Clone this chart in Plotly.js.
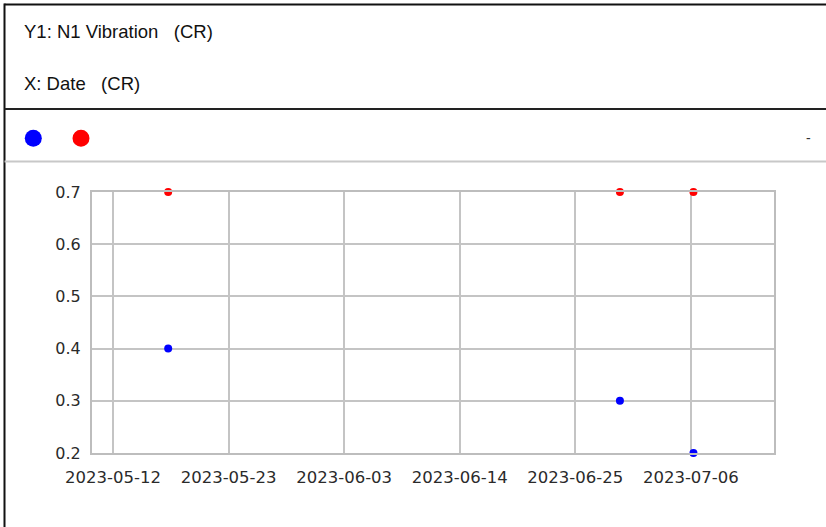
<!DOCTYPE html>
<html>
<head>
<meta charset="utf-8">
<script src="https://cdn.plot.ly/plotly-3.0.1.min.js"></script>
<style>
html,body{margin:0;padding:0;background:#fff;}
#chart{width:826px;height:527px;}
</style>
</head>
<body>
<div id="chart"></div>
<script>
// ---- data ----
var dates = ['2023-05-17 06:00', '2023-06-29 06:00', '2023-07-06 06:00'];
var blueValues = [0.4, 0.3, 0.2];
var redValues = [0.7, 0.7, 0.7];
var headerY = 'Y1: N1 Vibration\u00a0\u00a0\u00a0(CR)';
var headerX = 'X: Date\u00a0\u00a0\u00a0(CR)';
var xRange = ['2023-05-10 00:00', '2023-07-13 22:00'];
var xTick0 = '2023-05-12';
var xTickDays = 11;
var yRange = [0.2, 0.7];

// ---- layout helpers (pixel -> paper) ----
var W = 826, H = 527;
var L = 92, R = 52, T = 192, B = 74;
var PW = W - L - R, PH = H - T - B;
function px(x){ return (x - L) / PW; }
function py(y){ return (H - B - y) / PH; }

var traces = [
  {x: dates, y: blueValues, mode: 'markers', type: 'scatter', name: 'blue',
   marker: {color: '#0000ff', size: 8}, cliponaxis: false, hoverinfo: 'x+y'},
  {x: dates, y: redValues, mode: 'markers', type: 'scatter', name: 'red',
   marker: {color: '#ff0000', size: 8}, cliponaxis: false, hoverinfo: 'x+y'}
];

var shapes = [
  // outer top and left black border
  {type: 'line', xref: 'paper', yref: 'paper', x0: px(4.5), x1: px(830), y0: py(4.5), y1: py(4.5),
   line: {color: '#111', width: 2}},
  {type: 'line', xref: 'paper', yref: 'paper', x0: px(4.5), x1: px(4.5), y0: py(3.5), y1: py(530),
   line: {color: '#111', width: 2}},
  // header separator
  {type: 'line', xref: 'paper', yref: 'paper', x0: px(4.5), x1: px(830), y0: py(109), y1: py(109),
   line: {color: '#222', width: 2}},
  // legend separator (gray)
  {type: 'line', xref: 'paper', yref: 'paper', x0: px(4.5), x1: px(830), y0: py(161.5), y1: py(161.5),
   line: {color: '#c8c8c8', width: 2}},
  // legend circles
  {type: 'circle', xref: 'paper', yref: 'paper', x0: px(24.8), x1: px(41.8), y0: py(146.8), y1: py(129.8),
   fillcolor: '#0000ff', line: {width: 0}},
  {type: 'circle', xref: 'paper', yref: 'paper', x0: px(72.5), x1: px(89.5), y0: py(146.8), y1: py(129.8),
   fillcolor: '#ff0000', line: {width: 0}}
];

var annotations = [
  {text: headerY, xref: 'paper', yref: 'paper', x: px(22), y: py(31.5), xanchor: 'left', yanchor: 'middle',
   showarrow: false, font: {family: 'Liberation Sans, Arial, sans-serif', size: 18.5, color: '#111'}},
  {text: headerX, xref: 'paper', yref: 'paper', x: px(22), y: py(83), xanchor: 'left', yanchor: 'middle',
   showarrow: false, font: {family: 'Liberation Sans, Arial, sans-serif', size: 18.5, color: '#111'}},
  {text: '-', xref: 'paper', yref: 'paper', x: px(808), y: py(137.5), xanchor: 'center', yanchor: 'middle',
   showarrow: false, font: {family: 'Liberation Sans, Arial, sans-serif', size: 14, color: '#333'}}
];

var layout = {
  width: W, height: H,
  margin: {l: L, r: R, t: T, b: B, pad: 0},
  paper_bgcolor: '#fff', plot_bgcolor: '#fff',
  showlegend: false,
  xaxis: {
    type: 'date', range: xRange, tick0: xTick0, dtick: xTickDays * 86400000,
    tickformat: '%Y-%m-%d', showgrid: true, gridcolor: '#c4c4c4', gridwidth: 2,
    showline: true, linecolor: '#bdbdbd', linewidth: 2, mirror: true,
    zeroline: false, ticks: '', ticklabelstandoff: 8,
    tickfont: {family: 'DejaVu Sans, sans-serif', size: 16.5, color: '#2a2a2a'}
  },
  yaxis: {
    range: yRange, dtick: 0.1, tick0: 0.2, tickformat: '.1f',
    showgrid: true, gridcolor: '#c4c4c4', gridwidth: 2,
    showline: true, linecolor: '#bdbdbd', linewidth: 2, mirror: true,
    zeroline: false, ticks: '', ticklabelstandoff: 6,
    tickfont: {family: 'DejaVu Sans, sans-serif', size: 16, color: '#2a2a2a'}
  },
  shapes: shapes,
  annotations: annotations
};

Plotly.newPlot('chart', traces, layout, {displayModeBar: false, staticPlot: true});
</script>
</body>
</html>
